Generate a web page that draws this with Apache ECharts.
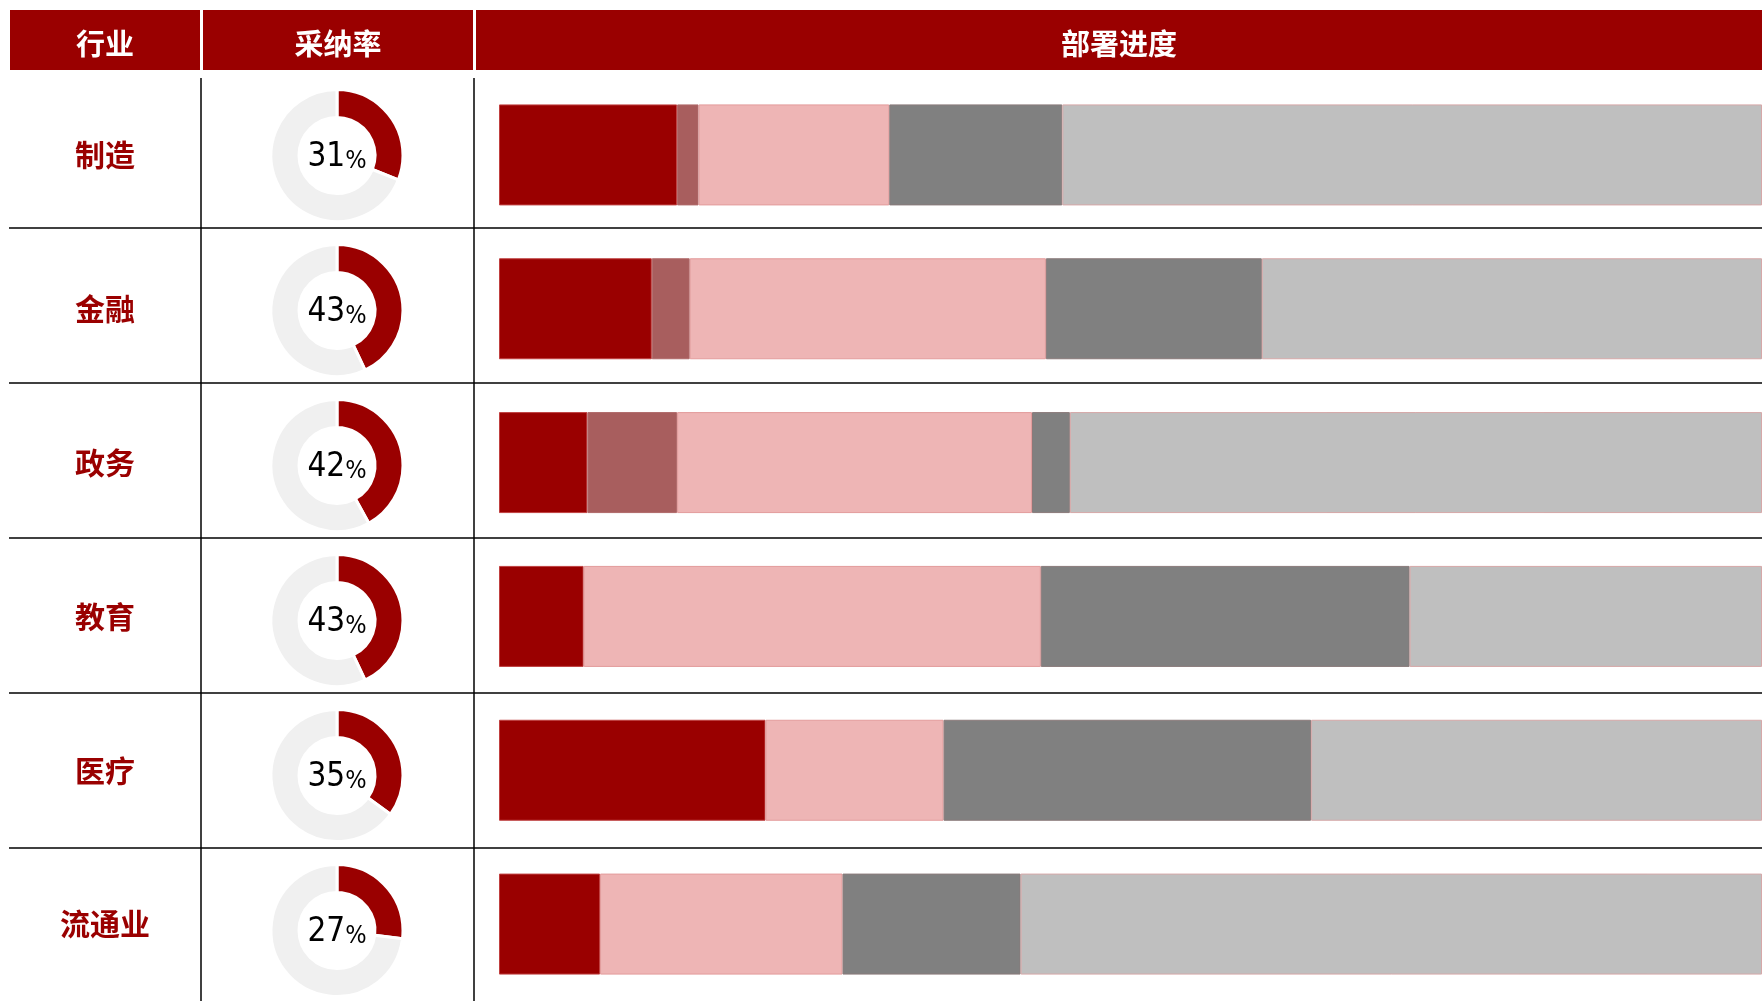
<!DOCTYPE html>
<html>
<head>
<meta charset="utf-8">
<title>行业采纳率与部署进度</title>
<script src="https://cdn.jsdelivr.net/npm/echarts@6/dist/echarts.min.js"></script>
<style>
  html, body { margin: 0; padding: 0; background: #fff; }
  #main { width: 1762px; height: 1001px; }
</style>
</head>
<body>
<div id="main"></div>
<script>
// 表格数据
var headers = ['行业', '采纳率', '部署进度'];
var industries = ['制造', '金融', '政务', '教育', '医疗', '流通业'];
var adoptRate = [31, 43, 42, 43, 35, 27];

// 部署进度（%），五个阶段依次堆叠
var stageNames = ['阶段一', '阶段二', '阶段三', '阶段四', '阶段五'];
var stage1 = [14.1, 12.1, 7.0, 6.7, 21.1, 8.0];
var stage2 = [1.7, 3.0, 7.1, 0, 0, 0];
var stage3 = [15.1, 28.2, 28.1, 36.2, 14.1, 19.2];
var stage4 = [13.7, 17.1, 3.0, 29.2, 29.1, 14.1];
var stage5 = [55.4, 39.6, 54.8, 27.9, 35.7, 58.7];

(function () {
  var myChart = echarts.init(document.getElementById('main'));

  var RED = '#9a0000';
  var stageColors = ['#9a0000', '#a85e5e', '#eeb5b5', '#808080', '#bfbfbf'];
  var stageBorders = ['#c04040', '#b06a6a', '#e39c9c', '#8a7a7a', '#d6a8a8'];
  var stages = [stage1, stage2, stage3, stage4, stage5];
  var numFont = '"DejaVu Sans Condensed", "Liberation Sans Narrow", "Arial Narrow", sans-serif';

  var gridTop = 78;
  var rowH = 155;
  var donutX = 337;

  var series = [];
  stages.forEach(function (arr, k) {
    series.push({
      name: stageNames[k],
      type: 'bar',
      stack: 'progress',
      barWidth: 101,
      silent: true,
      itemStyle: {
        color: stageColors[k],
        borderColor: stageBorders[k],
        borderWidth: 1
      },
      data: arr.map(function (v) { return v === 0 ? '-' : v; })
    });
  });

  industries.forEach(function (name, i) {
    var cy = gridTop + rowH * (i + 0.5);
    series.push({
      name: name,
      type: 'pie',
      center: [donutX, cy],
      radius: [38, 66],
      startAngle: 90,
      clockwise: true,
      silent: true,
      animation: false,
      label: { show: false },
      labelLine: { show: false },
      itemStyle: { borderColor: '#fff', borderWidth: 3 },
      data: [
        {
          value: adoptRate[i],
          itemStyle: { color: RED },
          label: {
            show: true,
            position: 'center',
            formatter: '{n|' + adoptRate[i] + '}{p|%}',
            rich: {
              n: { fontSize: 33, color: '#000', fontFamily: numFont, verticalAlign: 'bottom', lineHeight: 36 },
              p: { fontSize: 25, color: '#000', fontFamily: numFont, verticalAlign: 'bottom', lineHeight: 36 }
            }
          }
        },
        { value: 100 - adoptRate[i], itemStyle: { color: '#f0f0f0' } }
      ]
    });
  });

  // 表头与表格线
  var graphics = [];
  var cols = [[10, 200], [203, 473], [476, 1762]];
  cols.forEach(function (c, j) {
    graphics.push({
      type: 'rect',
      shape: { x: c[0], y: 10, width: c[1] - c[0], height: 60 },
      style: { fill: RED }
    });
    graphics.push({
      type: 'text',
      x: (c[0] + c[1]) / 2,
      y: 44,
      style: {
        text: headers[j],
        fill: '#fff',
        font: 'bold 29px "Noto Sans CJK SC"',
        align: 'center',
        verticalAlign: 'middle'
      }
    });
  });
  for (var r = 0; r < industries.length - 1; r++) {
    var ly = 228 + rowH * r;
    graphics.push({
      type: 'line',
      shape: { x1: 9, y1: ly, x2: 1762, y2: ly },
      style: { stroke: '#000', lineWidth: 1.5 }
    });
  }
  [201, 474].forEach(function (vx) {
    graphics.push({
      type: 'line',
      shape: { x1: vx, y1: 78, x2: vx, y2: 1001 },
      style: { stroke: '#000', lineWidth: 1.5 }
    });
  });

  var option = {
    animation: false,
    grid: {
      left: 499,
      right: 0,
      top: gridTop,
      height: rowH * industries.length
    },
    xAxis: {
      type: 'value',
      min: 0,
      max: 100,
      show: false
    },
    yAxis: {
      type: 'category',
      inverse: true,
      data: industries,
      axisLine: { show: false },
      axisTick: { show: false },
      splitLine: { show: false },
      axisLabel: {
        margin: 394,
        align: 'center',
        color: RED,
        fontSize: 30,
        fontWeight: 'bold',
        fontFamily: '"Noto Sans CJK SC"'
      }
    },
    graphic: graphics,
    series: series
  };

  myChart.setOption(option);
  window.addEventListener('resize', function () {
    myChart.resize();
  });
})();
</script>
</body>
</html>
